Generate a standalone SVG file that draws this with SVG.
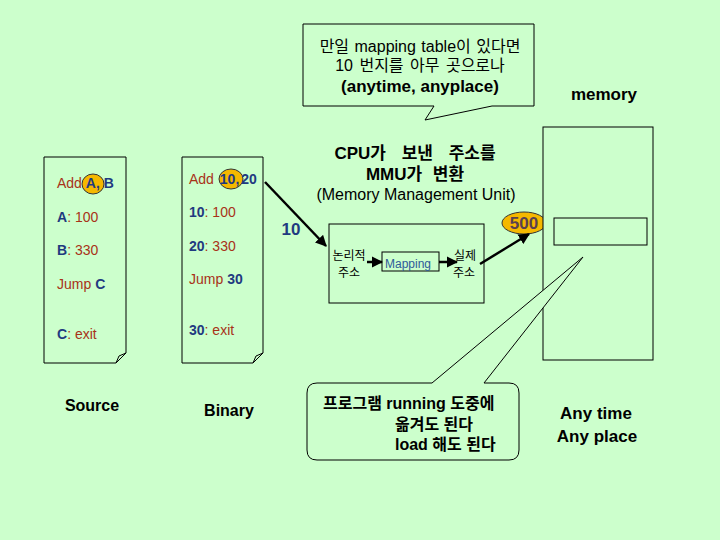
<svg xmlns="http://www.w3.org/2000/svg" width="720" height="540" viewBox="0 0 720 540">
<defs>
<marker id="ah" viewBox="0 0 10 10" refX="9" refY="5" markerWidth="4.5" markerHeight="4.5" orient="auto" markerUnits="strokeWidth"><path d="M0,0 L10,5 L0,10 z" fill="#000"/></marker>
<style>
.ln{fill:none;stroke:#000;stroke-width:1}
.doc{fill:#CCFFCC;stroke:#000;stroke-width:1}
.t{font-family:"Liberation Sans",Arial,"Noto Sans CJK KR",sans-serif;}
.k{font-family:"Liberation Sans","Noto Sans CJK KR",sans-serif;}
.red{fill:#A83218;font-size:14px}
.blu{fill:#1F3A80;font-weight:bold}
.bold{font-weight:bold;fill:#000}
.hl{fill:#F5B800;stroke:#333;stroke-width:1}
.arr{stroke:#000;stroke-width:2.5;fill:none;marker-end:url(#ah)}
</style>
</defs>
<rect width="720" height="540" fill="#CCFFCC"/>

<g id="callout-top">
<path class="doc" d="M303,24 H534 V106 H492 L425,120 L434,106 H303 Z"/>
<text class="k" x="420" y="52" font-size="16" text-anchor="middle" fill="#000" word-spacing="1">만일 mapping table이 있다면</text>
<text class="k" x="420" y="71" font-size="16" text-anchor="middle" fill="#000" word-spacing="2">10 번지를 아무 곳으로나</text>
<text class="k bold" x="420" y="92" font-size="17" text-anchor="middle">(anytime, anyplace)</text>
</g>

<g id="memory-label"><text class="t bold" x="604" y="100" font-size="17" text-anchor="middle">memory</text></g>

<g id="source">
<path class="doc" d="M44,157 H126 V353 L116,363 H44 Z"/>
<path class="ln" d="M116,363 L119,356 L126,353"/>
<ellipse class="hl" cx="93" cy="184" rx="11" ry="10"/>
<text class="t red" x="57" y="188">Add <tspan class="blu">A, B</tspan></text>
<text class="t red" x="57" y="222"><tspan class="blu">A</tspan>: 100</text>
<text class="t red" x="57" y="255"><tspan class="blu">B</tspan>: 330</text>
<text class="t red" x="57" y="289">Jump <tspan class="blu">C</tspan></text>
<text class="t red" x="57" y="339"><tspan class="blu">C</tspan>: exit</text>
<text class="t bold" x="92" y="411" font-size="16" text-anchor="middle">Source</text>
</g>

<g id="binary">
<path class="doc" d="M182,157 H263 V353 L253,363 H182 Z"/>
<path class="ln" d="M253,363 L256,356 L263,353"/>
<ellipse class="hl" cx="231" cy="179" rx="12" ry="10"/>
<text class="t red" x="189" y="184">Add <tspan class="blu" dx="2">10,</tspan><tspan class="blu" dx="2">20</tspan></text>
<text class="t red" x="189" y="217"><tspan class="blu">10</tspan>: 100</text>
<text class="t red" x="189" y="251"><tspan class="blu">20</tspan>: 330</text>
<text class="t red" x="189" y="284">Jump <tspan class="blu">30</tspan></text>
<text class="t red" x="189" y="335"><tspan class="blu">30</tspan>: exit</text>
<text class="t bold" x="229" y="416" font-size="16" text-anchor="middle">Binary</text>
</g>

<g id="mmu-title">
<text class="k bold" x="415" y="159" font-size="17" text-anchor="middle" word-spacing="11">CPU가 보낸 주소를</text>
<text class="k bold" x="415" y="180" font-size="17" text-anchor="middle" word-spacing="6">MMU가 변환</text>
<text class="t" x="416" y="200" font-size="16" text-anchor="middle" fill="#000">(Memory Management Unit)</text>
</g>

<g id="mmu">
<rect class="doc" x="329" y="224" width="155" height="79"/>
<text class="k" x="349" y="260" font-size="12" text-anchor="middle" fill="#000">논리적</text>
<text class="k" x="349" y="277" font-size="12" text-anchor="middle" fill="#000">주소</text>
<rect class="doc" x="382" y="252" width="57" height="19"/>
<text class="t" x="385" y="268" font-size="12" fill="#2E5A99">Mapping</text>
<text class="k" x="465" y="260" font-size="12" text-anchor="middle" fill="#000">실제</text>
<text class="k" x="464" y="277" font-size="12" text-anchor="middle" fill="#000">주소</text>
</g>

<g id="addr-500">
<ellipse class="hl" cx="524" cy="223" rx="22" ry="11"/>
<text class="t" x="524" y="229" font-size="17" font-weight="bold" text-anchor="middle" fill="#5A4050">500</text>
</g>

<g id="label-10"><text class="t" x="291" y="235" font-size="17" font-weight="bold" text-anchor="middle" fill="#1F3A80">10</text></g>

<g id="memory">
<rect class="doc" x="543" y="127" width="110" height="233"/>
<rect class="doc" x="554" y="218" width="93" height="27"/>
</g>

<g id="callout-bottom">
<path class="doc" d="M317,383 H432 L583,257 L484,383 H509 Q519,383 519,393 V450 Q519,460 509,460 H317 Q307,460 307,450 V393 Q307,383 317,383 Z"/>
<text class="k bold" x="323" y="409" font-size="16">프로그램 running 도중에</text>
<text class="k bold" x="395" y="430" font-size="16">옮겨도 된다</text>
<text class="k bold" x="395" y="450" font-size="16">load 해도 된다</text>
</g>

<g id="anytime">
<text class="t bold" x="596" y="419" font-size="17" text-anchor="middle">Any time</text>
<text class="t bold" x="597" y="442" font-size="17" text-anchor="middle">Any place</text>
</g>

<g id="connectors">
<line class="arr" x1="265" y1="182" x2="326" y2="246"/>
<line class="arr" x1="367" y1="262" x2="382" y2="262" stroke-width="2"/>
<line class="arr" x1="439" y1="262" x2="457" y2="262" stroke-width="2"/>
<line class="arr" x1="480" y1="264" x2="529" y2="234"/>
</g>
</svg>
